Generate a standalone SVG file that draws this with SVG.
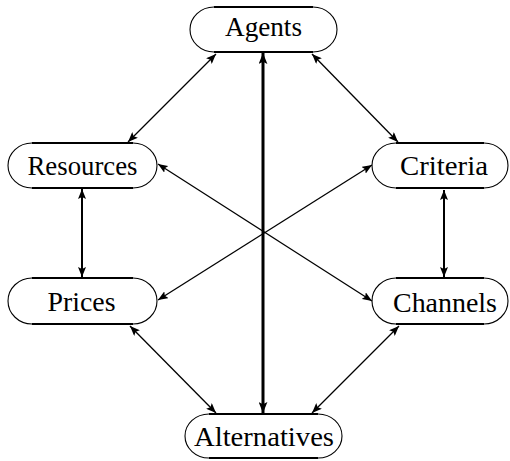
<svg xmlns="http://www.w3.org/2000/svg" width="510" height="461" viewBox="0 0 510 461">
<defs>
<style>
.side{fill:none;stroke:#000;stroke-width:1.1}
.edge{stroke:#000;stroke-width:2.2}
.lbl{font-family:"Liberation Serif","DejaVu Serif",serif;font-size:27px;fill:#000;text-anchor:middle}
.conn{stroke:#000;stroke-width:1.3;fill:none;marker-start:url(#ah);marker-end:url(#ah)}
.mid{stroke-width:2}
.thick{stroke-width:3;marker-start:url(#ahb);marker-end:url(#ahb)}
</style>
<marker id="ah" viewBox="0 0 10 8" refX="10" refY="4" markerWidth="10" markerHeight="8" markerUnits="userSpaceOnUse" orient="auto-start-reverse">
<path d="M0,0 L10,4 L0,8 L2,4 z" fill="#000"/>
</marker>
<marker id="ahb" viewBox="0 0 10 8" refX="10" refY="4" markerWidth="11" markerHeight="9" markerUnits="userSpaceOnUse" orient="auto-start-reverse">
<path d="M0,0 L10,4 L0,8 L2,4 z" fill="#000"/>
</marker>
</defs>
<rect width="510" height="461" fill="#fff"/>
<g id="connectors">
<line class="conn thick" x1="263" y1="53" x2="263" y2="413"/>
<line class="conn" x1="216" y1="54" x2="128" y2="142"/>
<line class="conn" x1="312" y1="54" x2="398" y2="142"/>
<line class="conn mid" x1="82" y1="189" x2="82" y2="277"/>
<line class="conn mid" x1="444" y1="190" x2="444" y2="277"/>
<line class="conn" x1="158" y1="164" x2="372" y2="301"/>
<line class="conn" x1="372" y1="165" x2="158" y2="300"/>
<line class="conn" x1="130" y1="326" x2="216" y2="413"/>
<line class="conn" x1="399" y1="326" x2="312" y2="413"/>
</g>
<g id="agents">
<path class="side" d="M214,7 A24,22.5 0 0 0 214,52 M313,7 A24,22.5 0 0 1 313,52"/>
<line class="edge" x1="214" y1="7" x2="313" y2="7"/><line class="edge" x1="214" y1="52" x2="313" y2="52"/>
<text class="lbl" x="263.5" y="36" textLength="77" lengthAdjust="spacingAndGlyphs">Agents</text>
</g>
<g id="resources">
<path class="side" d="M32,143 A24,22.5 0 0 0 32,188 M133,143 A24,22.5 0 0 1 133,188"/>
<line class="edge" x1="32" y1="143" x2="133" y2="143"/><line class="edge" x1="32" y1="188" x2="133" y2="188"/>
<text class="lbl" x="82.5" y="175" textLength="110" lengthAdjust="spacingAndGlyphs">Resources</text>
</g>
<g id="criteria">
<path class="side" d="M396,143 A24,22.5 0 0 0 396,188 M484,143 A24,22.5 0 0 1 484,188"/>
<line class="edge" x1="396" y1="143" x2="484" y2="143"/><line class="edge" x1="396" y1="188" x2="484" y2="188"/>
<text class="lbl" x="444" y="175" textLength="88" lengthAdjust="spacingAndGlyphs">Criteria</text>
</g>
<g id="prices">
<path class="side" d="M32,278 A24,23 0 0 0 32,324 M133,278 A24,23 0 0 1 133,324"/>
<line class="edge" x1="32" y1="278" x2="133" y2="278"/><line class="edge" x1="32" y1="324" x2="133" y2="324"/>
<text class="lbl" x="81.5" y="311" textLength="68" lengthAdjust="spacingAndGlyphs">Prices</text>
</g>
<g id="channels">
<path class="side" d="M396,278 A24,23 0 0 0 396,324 M484,278 A24,23 0 0 1 484,324"/>
<line class="edge" x1="396" y1="278" x2="484" y2="278"/><line class="edge" x1="396" y1="324" x2="484" y2="324"/>
<text class="lbl" x="445" y="312" textLength="104" lengthAdjust="spacingAndGlyphs">Channels</text>
</g>
<g id="alternatives">
<path class="side" d="M209,414 A24,22 0 0 0 209,458 M318,414 A24,22 0 0 1 318,458"/>
<line class="edge" x1="209" y1="414" x2="318" y2="414"/><line class="edge" x1="209" y1="458" x2="318" y2="458"/>
<text class="lbl" x="264" y="446" textLength="140" lengthAdjust="spacingAndGlyphs">Alternatives</text>
</g>
</svg>
